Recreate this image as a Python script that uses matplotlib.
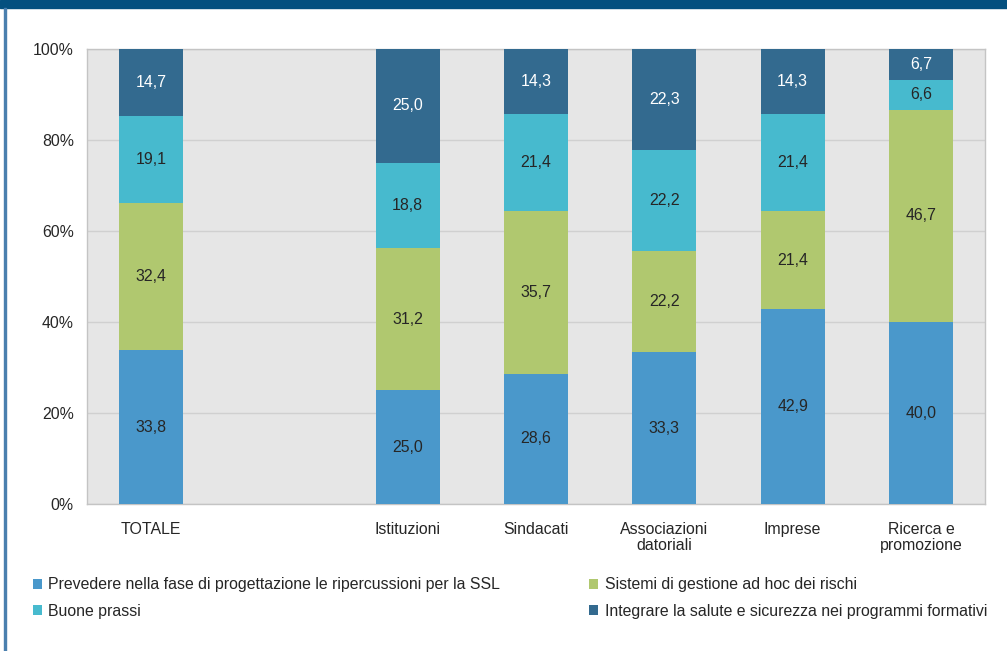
import matplotlib
matplotlib.use("Agg")
import matplotlib.pyplot as plt
import numpy as np
from matplotlib.patches import Rectangle

plt.rcParams['font.family'] = ['Liberation Sans', 'DejaVu Sans']

categories = ["TOTALE", "", "Istituzioni", "Sindacati", "Associazioni\ndatoriali",
              "Imprese", "Ricerca e\npromozione"]

prevedere = [33.8, np.nan, 25.0, 28.6, 33.3, 42.9, 40.0]
sistemi = [32.4, np.nan, 31.2, 35.7, 22.2, 21.4, 46.7]
buone = [19.1, np.nan, 18.8, 21.4, 22.2, 21.4, 6.6]
integrare = [14.7, np.nan, 25.0, 14.3, 22.3, 14.3, 6.7]

series_names = ["Prevedere nella fase di progettazione le ripercussioni per la SSL",
                "Sistemi di gestione ad hoc dei rischi",
                "Buone prassi",
                "Integrare la salute e sicurezza nei programmi formativi"]
series_values = [prevedere, sistemi, buone, integrare]
colors = ["#4a98cb", "#b0c86f", "#47bace", "#336a8f"]
text_colors = ["#262626", "#262626", "#262626", "white"]

FS = 11.4

fig = plt.figure(figsize=(10.07, 6.51), dpi=100)
ax = fig.add_axes([0.0864, 0.2258, 0.8918, 0.6989])

x = np.arange(len(categories))
bottom = np.zeros(len(categories))
bars = []
for name, vals, col, tc in zip(series_names, series_values, colors, text_colors):
    vals = np.array(vals, dtype=float)
    b = ax.bar(x, np.nan_to_num(vals), width=0.5, bottom=bottom, color=col,
               label=name, zorder=3, linewidth=0)
    bars.append(b)
    for xi, v, bt in zip(x, vals, bottom):
        if np.isnan(v):
            continue
        ax.text(xi, bt + v / 2, f"{v:.1f}".replace(".", ","), ha="center",
                va="center", fontsize=FS, color=tc, zorder=4)
    bottom += np.nan_to_num(vals)

ax.set_xlim(-0.5, len(categories) - 0.5)
ax.set_ylim(0, 100)
ax.set_facecolor("#e6e6e6")
ax.set_yticks(np.arange(0, 101, 20))
ax.set_yticklabels([f"{v}%" for v in range(0, 101, 20)], fontsize=FS, color="#262626")
ax.yaxis.grid(True, color="#d0d0d0", linewidth=1, zorder=0)
ax.set_xticks(x)
ax.set_xticklabels(categories, fontsize=FS, color="#262626", linespacing=1.1)
ax.tick_params(axis="x", length=0, pad=13)
ax.tick_params(axis="y", length=0, pad=9.5)
for s in ax.spines.values():
    s.set_color("#c4c4c4")
    s.set_linewidth(1)

handles = [bars[0], bars[2], bars[1], bars[3]]
labels = [series_names[0], series_names[2], series_names[1], series_names[3]]
fig.legend(handles, labels, ncol=2, loc="upper left", bbox_to_anchor=(0.026, 0.123),
           frameon=False, fontsize=FS, handlelength=0.6, handleheight=0.6,
           handletextpad=0.4, columnspacing=5.6, labelspacing=0.74,
           labelcolor="#262626", borderaxespad=0)

# header band and left border
fig.patches.append(Rectangle((0, 1 - 8 / 651), 1, 8 / 651, transform=fig.transFigure,
                             color="#04507f", zorder=0))
fig.patches.append(Rectangle((4 / 1007, 0), 2 / 1007, 1 - 8 / 651, transform=fig.transFigure,
                             color="#4a7fae", zorder=0))

fig.savefig("out.png", dpi=100)
